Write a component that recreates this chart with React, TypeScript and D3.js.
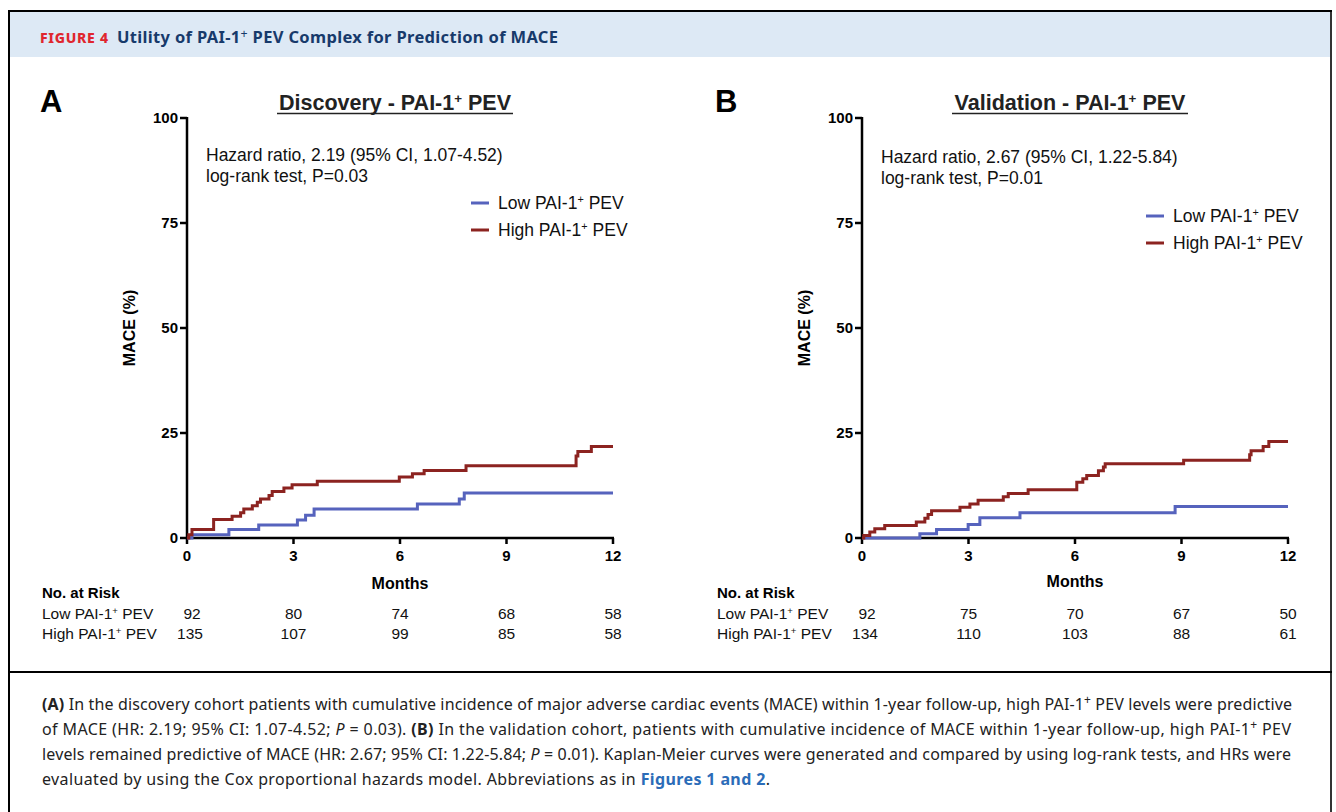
import React from "react";
import * as d3 from "d3";

const monthTicks = [0, 3, 6, 9, 12];
const pctTicks = [0, 25, 50, 75, 100];

const discLowT = [0, 0.14, 1.18, 2.02, 3.11, 3.34, 3.58, 6.49, 7.67, 7.81, 12];
const discLowV = [0, 0.8, 2.0, 3.1, 4.3, 5.4, 6.9, 8.1, 9.3, 10.7, 10.7];
const discHighT = [0, 0.05, 0.14, 0.75, 1.27, 1.51, 1.6, 1.84, 1.98, 2.07, 2.31, 2.4, 2.73, 2.96, 3.67, 5.98, 6.35, 6.68, 7.86, 10.96, 11.01, 11.39, 12];
const discHighV = [0, 0.8, 2.0, 4.4, 5.2, 6.0, 6.9, 7.7, 8.5, 9.3, 10.1, 11.1, 11.9, 12.7, 13.5, 14.5, 15.3, 16.1, 17.2, 19.5, 20.6, 21.8, 21.8];

const valLowT = [0, 1.63, 2.1, 2.99, 3.32, 4.45, 8.82, 12];
const valLowV = [0, 1.0, 2.0, 3.2, 4.8, 6.0, 7.5, 7.5];
const valHighT = [0, 0.05, 0.22, 0.36, 0.64, 1.53, 1.77, 1.86, 1.96, 2.76, 3.04, 3.27, 3.98, 4.12, 4.68, 6.05, 6.22, 6.33, 6.66, 6.8, 6.85, 9.06, 10.92, 10.96, 11.3, 11.46, 12];
const valHighV = [0, 0.6, 1.4, 2.2, 3.0, 3.8, 4.7, 5.6, 6.5, 7.3, 8.1, 9.0, 9.8, 10.6, 11.5, 13.3, 14.1, 14.9, 16.0, 16.9, 17.7, 18.5, 19.8, 20.8, 21.8, 23.0, 23.0];

const discRiskLow = [92, 80, 74, 68, 58];
const discRiskHigh = [135, 107, 99, 85, 58];
const valRiskLow = [92, 75, 70, 67, 50];
const valRiskHigh = [134, 110, 103, 88, 61];

const LOW_COLOR = "#5663bd";
const HIGH_COLOR = "#8c2320";
const ARIAL = "'Liberation Sans', Arial, sans-serif";
const CAPTION_FONT = "'Noto Sans', 'Open Sans', sans-serif";

type PanelProps = {
  x0: number;
  letter: string;
  title: string;
  hr: string;
  p: string;
  lowT: number[];
  lowV: number[];
  highT: number[];
  highV: number[];
  riskLow: number[];
  riskHigh: number[];
  legendY: number;
  annY: number;
  monthsY: number;
};

const Sup = () => (
  <tspan baselineShift="super" fontSize="0.62em">+</tspan>
);

function Panel(props: PanelProps) {
  const { x0, letter, title, hr, p, lowT, lowV, highT, highV, riskLow, riskHigh, legendY, annY, monthsY } = props;
  const x = d3.scaleLinear().domain([0, 12]).range([x0, x0 + 426]);
  const y = d3.scaleLinear().domain([0, 100]).range([538, 118]);
  const line = d3
    .line<[number, number]>()
    .x((d) => x(d[0]))
    .y((d) => y(d[1]))
    .curve(d3.curveStepAfter);
  const lowPts = lowT.map((t, i) => [t, lowV[i]] as [number, number]);
  const highPts = highT.map((t, i) => [t, highV[i]] as [number, number]);
  const left = x0 - 145;
  const titleW = 236;
  return (
    <g fontFamily={ARIAL}>
      <text x={x0 - 147} y={112} fontSize={31} fontWeight="bold" fill="#000">{letter}</text>
      <text x={x(6) - 5} y={110} fontSize={21.5} fontWeight="bold" textAnchor="middle" fill="#222">
        {title} - PAI-1<Sup /> PEV
      </text>
      <line x1={x(6) - 5 - titleW / 2} x2={x(6) - 5 + titleW / 2} y1={113.5} y2={113.5} stroke="#222" strokeWidth={1.6} />
      {/* y axis */}
      <line x1={x0} x2={x0} y1={y(100) - 1} y2={y(0)} stroke="#000" strokeWidth={2.5} />
      {pctTicks.map((t) => (
        <g key={t}>
          <line x1={x0 - 7} x2={x0} y1={y(t)} y2={y(t)} stroke="#000" strokeWidth={2.5} />
          <text x={x0 - 9} y={y(t) + 5} fontSize={15} fontWeight="bold" textAnchor="end" fill="#000">{t}</text>
        </g>
      ))}
      <text transform={`translate(${x0 - 52},${y(50)}) rotate(-90)`} fontSize={16} fontWeight="bold" textAnchor="middle" fill="#000">MACE (%)</text>
      {/* x axis */}
      <line x1={x0 - 1} x2={x(12) + 1} y1={y(0)} y2={y(0)} stroke="#000" strokeWidth={2.5} />
      {monthTicks.map((t) => (
        <g key={t}>
          <line x1={x(t)} x2={x(t)} y1={y(0)} y2={y(0) + 6} stroke="#000" strokeWidth={2.5} />
          <text x={x(t)} y={y(0) + 23} fontSize={15} fontWeight="bold" textAnchor="middle" fill="#000">{t}</text>
        </g>
      ))}
      <text x={x(6)} y={monthsY} fontSize={16} fontWeight="bold" textAnchor="middle" fill="#000">Months</text>
      {/* curves */}
      <path d={line(lowPts) || ""} fill="none" stroke={LOW_COLOR} strokeWidth={3} />
      <path d={line(highPts) || ""} fill="none" stroke={HIGH_COLOR} strokeWidth={3} />
      {/* annotations */}
      <text x={x0 + 19} y={annY} fontSize={17.5} fill="#111">{hr}</text>
      <text x={x0 + 19} y={annY + 21} fontSize={17.5} fill="#111">{p}</text>
      {/* legend */}
      <line x1={x0 + 284} x2={x0 + 302} y1={legendY} y2={legendY} stroke={LOW_COLOR} strokeWidth={3} />
      <text x={x0 + 311} y={legendY + 6} fontSize={17.5} fill="#111">Low PAI-1<Sup /> PEV</text>
      <line x1={x0 + 284} x2={x0 + 302} y1={legendY + 27} y2={legendY + 27} stroke={HIGH_COLOR} strokeWidth={3} />
      <text x={x0 + 311} y={legendY + 33} fontSize={17.5} fill="#111">High PAI-1<Sup /> PEV</text>
      {/* risk table */}
      <text x={left} y={598} fontSize={15} fontWeight="bold" fill="#000">No. at Risk</text>
      <text x={left} y={619} fontSize={15.5} fill="#111">Low PAI-1<Sup /> PEV</text>
      <text x={left} y={639} fontSize={15.5} fill="#111">High PAI-1<Sup /> PEV</text>
      {riskLow.map((v, i) => (
        <text key={"l" + i} x={x(monthTicks[i]) + (i === 0 ? 5 : 0)} y={619} fontSize={15.5} textAnchor="middle" fill="#111">{v}</text>
      ))}
      {riskHigh.map((v, i) => (
        <text key={"h" + i} x={x(monthTicks[i]) + (i === 0 ? 3 : 0)} y={639} fontSize={15.5} textAnchor="middle" fill="#111">{v}</text>
      ))}
    </g>
  );
}

export default function App() {
  const capSup = <tspan fontSize="0.75em" dy={-6}>+</tspan>;
  const capDown = <tspan dy={6}> </tspan>;
  return (
    <svg width={1336} height={812} style={{ position: "absolute", left: 0, top: 0, background: "#fff" }}>
      <rect x={0} y={0} width={1336} height={812} fill="#fff" />
      {/* header */}
      <rect x={9} y={11} width={1321} height={46} fill="#dde9f5" />
      <text x={40} y={43} fontFamily={CAPTION_FONT} fontSize={14} fontWeight="800" textLength={68} lengthAdjust="spacing" fill="#e0262e">FIGURE 4</text>
      <text x={117} y={43} fontFamily={CAPTION_FONT} fontSize={16.5} fontWeight="bold" textLength={441} lengthAdjust="spacing" fill="#173a6b">
        Utility of PAI-1<tspan fontSize="0.75em" dy={-5} fontWeight="normal">+</tspan><tspan dy={5}> PEV Complex for Prediction of MACE</tspan>
      </text>
      {/* borders */}
      <line x1={9} x2={9} y1={10} y2={812} stroke="#000" strokeWidth={2} />
      <line x1={1331} x2={1331} y1={10} y2={812} stroke="#333" strokeWidth={2} />
      <line x1={8} x2={1332} y1={11} y2={11} stroke="#000" strokeWidth={2} />
      <line x1={8} x2={1332} y1={672} y2={672} stroke="#000" strokeWidth={2} />

      <Panel x0={187} letter="A" title="Discovery" hr="Hazard ratio, 2.19 (95% CI, 1.07-4.52)" p="log-rank test, P=0.03"
        lowT={discLowT} lowV={discLowV} highT={discHighT} highV={discHighV}
        riskLow={discRiskLow} riskHigh={discRiskHigh} legendY={203} annY={161} monthsY={589} />
      <Panel x0={862} letter="B" title="Validation" hr="Hazard ratio, 2.67 (95% CI, 1.22-5.84)" p="log-rank test, P=0.01"
        lowT={valLowT} lowV={valLowV} highT={valHighT} highV={valHighV}
        riskLow={valRiskLow} riskHigh={valRiskHigh} legendY={216} annY={163} monthsY={587} />

      {/* caption */}
      <g fontFamily={CAPTION_FONT} fontSize={16} fill="#222">
        <text x={42} y={710} textLength={1250} lengthAdjust="spacing">
          <tspan fontWeight="bold">(A)</tspan> In the discovery cohort patients with cumulative incidence of major adverse cardiac events (MACE) within 1-year follow-up, high PAI-1{capSup}{capDown}PEV levels were predictive
        </text>
        <text x={42} y={735} textLength={1249} lengthAdjust="spacing">
          of MACE (HR: 2.19; 95% CI: 1.07-4.52; <tspan fontStyle="italic">P</tspan> = 0.03). <tspan fontWeight="bold">(B)</tspan> In the validation cohort, patients with cumulative incidence of MACE within 1-year follow-up, high PAI-1{capSup}{capDown}PEV
        </text>
        <text x={42} y={760} textLength={1249} lengthAdjust="spacing">
          levels remained predictive of MACE (HR: 2.67; 95% CI: 1.22-5.84; <tspan fontStyle="italic">P</tspan> = 0.01). Kaplan-Meier curves were generated and compared by using log-rank tests, and HRs were
        </text>
        <text x={42} y={785} textLength={728} lengthAdjust="spacing">
          evaluated by using the Cox proportional hazards model. Abbreviations as in <tspan fontWeight="bold" fill="#2b6cb8">Figures 1 and 2</tspan>.
        </text>
      </g>
    </svg>
  );
}
